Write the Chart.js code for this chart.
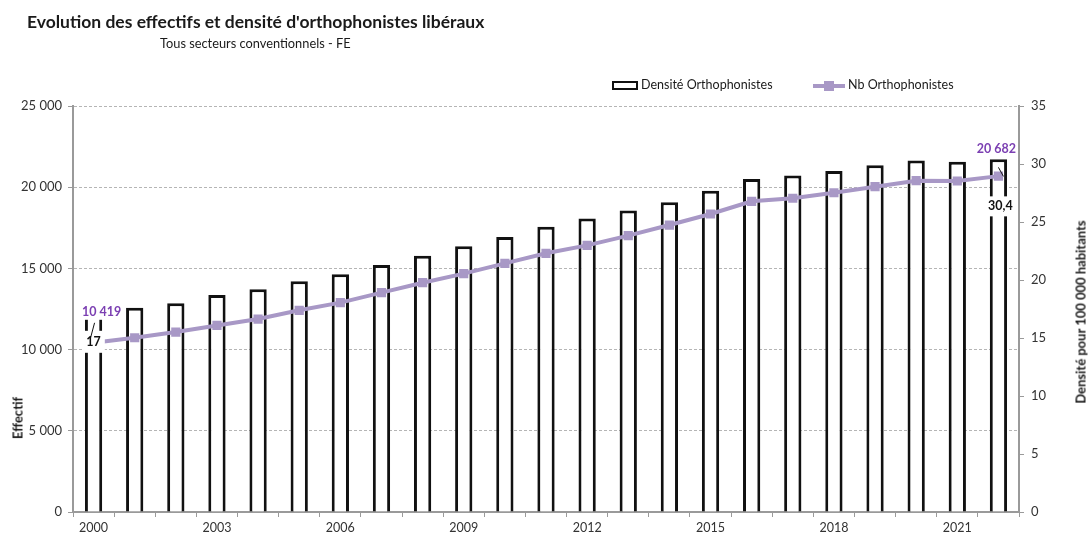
<!DOCTYPE html>
<html>
<head>
<meta charset="utf-8">
<script src="https://cdn.jsdelivr.net/npm/chart.js@4.4.1/dist/chart.umd.min.js"></script>
<style>
body{margin:0;background:#fff;font-family:Lato,sans-serif;color:#1a1a1a}
#wrap{position:relative;width:1088px;height:536px}
.t{position:absolute;white-space:nowrap;line-height:20px}
.rot{position:absolute;white-space:nowrap;font-weight:bold;font-size:13px;line-height:15px;transform:translate(-50%,-50%) rotate(-90deg)}
.box{display:inline-block;vertical-align:middle}
</style>
</head>
<body>
<div id="wrap">
<canvas id="c" width="1088" height="536"></canvas>
<div class="t" style="left:27px;top:12px;font-weight:bold;font-size:17.5px">Evolution des effectifs et densité d'orthophonistes libéraux</div>
<div class="t" style="left:160px;top:33px;font-size:12.8px">Tous secteurs conventionnels - FE</div>
<div class="t" style="left:612px;top:75px;font-size:12.5px">
  <span class="box" style="width:22px;height:5px;border:2.5px solid #111;background:#fff"></span><span style="margin-left:3px">Densité Orthophonistes</span>
</div>
<div class="t" style="left:813px;top:75px;font-size:12.5px">
  <span class="box" style="position:relative;width:32px;height:4px;background:#a898c6"><span style="position:absolute;left:11px;top:-3px;width:10px;height:10px;background:#a898c6"></span></span><span style="margin-left:3px">Nb Orthophonistes</span>
</div>
<div class="rot" style="left:18px;top:418px">Effectif</div>
<div class="rot" style="left:1081px;top:312px">Densité pour 100 000 habitants</div>
</div>
<script>
// années 2000 -> 2022
const years = ['2000','2001','2002','2003','2004','2005','2006','2007','2008','2009','2010','2011',
  '2012','2013','2014','2015','2016','2017','2018','2019','2020','2021','2022'];
const shownYears = ['2000','2003','2006','2009','2012','2015','2018','2021'];

// densité pour 100 000 habitants (axe droit)
const densite = [17.0, 17.6, 18.0, 18.7, 19.2, 19.9, 20.5, 21.3, 22.1, 22.9, 23.7, 24.6,
  25.3, 26.0, 26.7, 27.7, 28.7, 29.0, 29.4, 29.9, 30.3, 30.2, 30.4];

// nombre d'orthophonistes (axe gauche)
const effectif = [10419, 10730, 11080, 11490, 11880, 12420, 12890, 13510, 14120, 14680, 15310, 15930,
  16420, 17020, 17670, 18350, 19130, 19320, 19660, 20030, 20400, 20380, 20682];

const densiteLabels = {0: '17', 22: '30,4'};
const effectifLabels = {0: '10 419', 22: '20 682'};

const lilas = '#a898c6';
const violet = '#7b3fb2';
const axisGrey = '#9a9a9a';

function fmt(v) {
  return String(v).replace(/\B(?=(\d{3})+(?!\d))/g, ' ');
}

const labelPlugin = {
  id: 'valueLabels',
  afterDatasetsDraw(chart) {
    const ctx = chart.ctx;
    const bars = chart.getDatasetMeta(0).data;
    const pts = chart.getDatasetMeta(1).data;
    ctx.save();
    ctx.font = 'bold 12.5px Lato';
    ctx.textAlign = 'center';
    ctx.textBaseline = 'middle';

    function boxed(txt, x, y, color, padX, padY) {
      const w = ctx.measureText(txt).width;
      ctx.fillStyle = '#fff';
      ctx.fillRect(x - w / 2 - padX, y - 7 - padY, w + 2 * padX, 14 + 2 * padY);
      ctx.fillStyle = color;
      ctx.fillText(txt, x, y);
    }

    // premier point
    let b = bars[0], p = pts[0];
    boxed(effectifLabels[0], p.x + 8, p.y - 31, violet, 2, 1);
    boxed(densiteLabels[0], b.x, b.y + 27, '#111', 4, 4);
    ctx.strokeStyle = '#111';
    ctx.lineWidth = 1;
    ctx.beginPath();
    ctx.moveTo(b.x + 1, b.y + 8);
    ctx.lineTo(b.x - 3, b.y + 23);
    ctx.stroke();

    // dernier point
    const n = years.length - 1;
    b = bars[n]; p = pts[n];
    boxed(effectifLabels[n], p.x - 2, p.y - 27, violet, 0, 0);
    boxed(densiteLabels[n], b.x + 2, b.y + 47, '#111', 4, 3);
    ctx.beginPath();
    ctx.moveTo(b.x, b.y + 8);
    ctx.lineTo(b.x + 5, b.y + 17);
    ctx.stroke();
    ctx.restore();
  }
};

new Chart(document.getElementById('c'), {
  type: 'bar',
  data: {
    labels: years,
    datasets: [
      {
        type: 'bar',
        label: 'Densité Orthophonistes',
        data: densite,
        yAxisID: 'y1',
        backgroundColor: '#ffffff',
        borderColor: '#111111',
        borderWidth: 3,
        borderSkipped: 'start',
        categoryPercentage: 1,
        barPercentage: 0.42,
        order: 1
      },
      {
        type: 'line',
        label: 'Nb Orthophonistes',
        data: effectif,
        yAxisID: 'y',
        borderColor: lilas,
        backgroundColor: lilas,
        borderWidth: 4,
        pointStyle: 'rect',
        pointRadius: 6.5,
        pointBorderWidth: 0,
        tension: 0,
        order: 0
      }
    ]
  },
  options: {
    responsive: false,
    devicePixelRatio: 1,
    animation: false,
    layout: {padding: {top: 106, left: 0, right: 0, bottom: 0}},
    plugins: {
      legend: {display: false},
      tooltip: {enabled: false},
      title: {display: false}
    },
    scales: {
      x: {
        offset: true,
        afterFit(s) { s.height = 24; },
        grid: {
          offset: true,
          drawOnChartArea: false,
          tickLength: 5,
          tickColor: axisGrey,
          tickWidth: 1
        },
        border: {color: axisGrey, width: 2},
        ticks: {
          autoSkip: false,
          maxRotation: 0,
          padding: 3,
          color: '#333',
          font: {family: 'Lato', size: 12.5},
          callback(v, i) {
            const y = years[i];
            return shownYears.includes(y) ? y : '';
          }
        }
      },
      y: {
        position: 'left',
        min: 0,
        max: 25000,
        afterFit(s) { s.width = 73; },
        ticks: {
          stepSize: 5000,
          padding: 6,
          color: '#333',
          font: {family: 'Lato', size: 13},
          callback: v => fmt(v)
        },
        grid: {
          color: '#b5b5b5',
          lineWidth: 1,
          tickLength: 5,
          tickColor: axisGrey,
          tickBorderDash: []
        },
        border: {color: axisGrey, width: 2, dash: [3, 2]}
      },
      y1: {
        position: 'right',
        min: 0,
        max: 35,
        afterFit(s) { s.width = 69; },
        ticks: {
          stepSize: 5,
          padding: 7,
          color: '#333',
          font: {family: 'Lato', size: 13}
        },
        grid: {
          drawOnChartArea: false,
          tickLength: 5,
          tickColor: axisGrey,
          tickBorderDash: []
        },
        border: {color: axisGrey, width: 2}
      }
    }
  },
  plugins: [labelPlugin]
});
</script>
</body>
</html>
